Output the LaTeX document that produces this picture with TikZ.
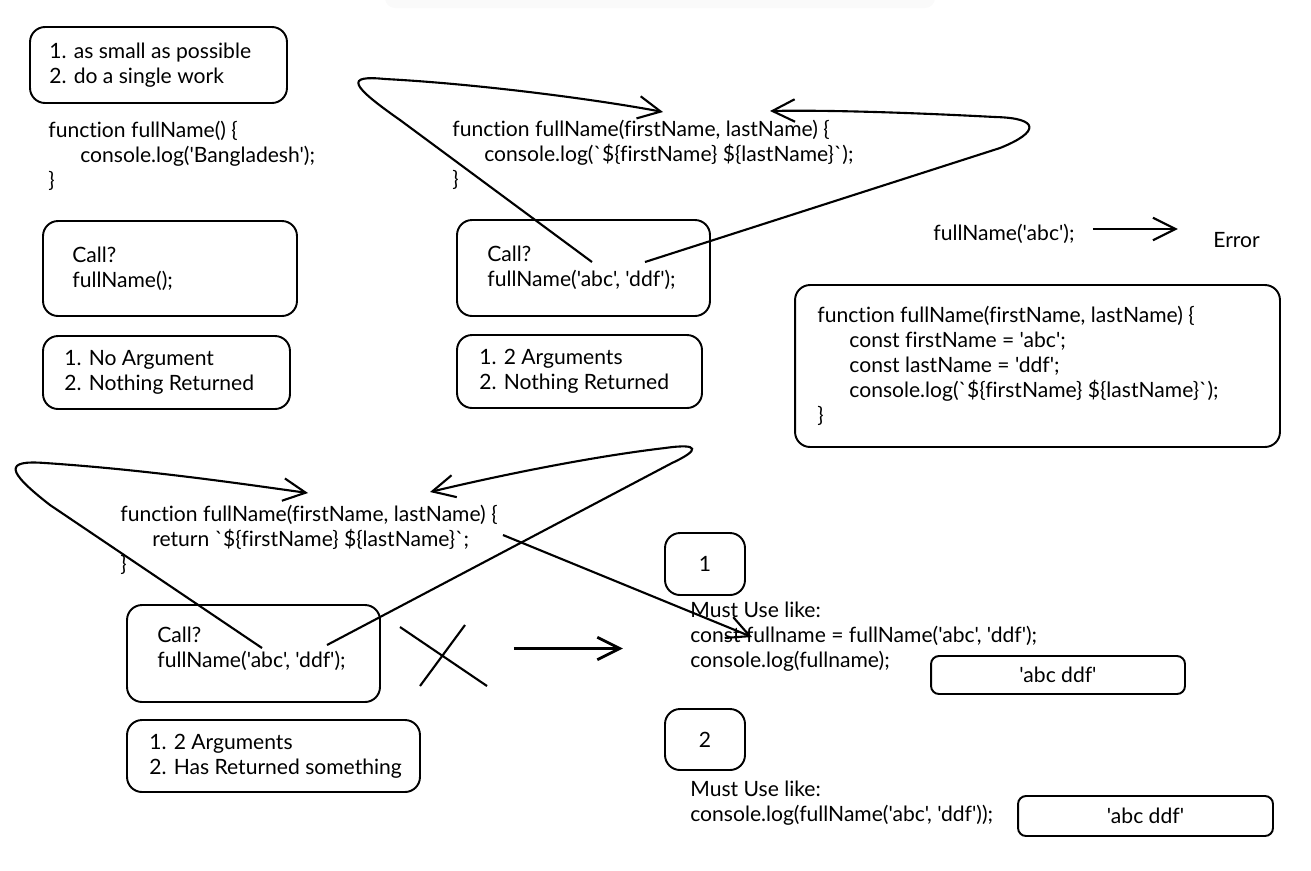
\documentclass[tikz,border=0pt]{standalone}
\usepackage{fontspec}
\setmainfont{Lato}[Ligatures={TeXOff,NoCommon}]
\usetikzlibrary{positioning,arrows.meta}

\newcommand{\ind}{\hspace*{0.64cm}}

\begin{document}
\begin{tikzpicture}[x=0.02cm, y=-0.02cm,
  every node/.style={font=\fontsize{12}{14.2}\selectfont},
  box/.style={draw, rounded corners=0.3cm, line width=1.1pt, inner sep=0pt},
  pill/.style={box, rounded corners=0.16cm},
  txt/.style={align=left, inner sep=0pt},
  link/.style={line width=1.2pt, -{Straight Barb[length=0.45cm,width=0.45cm]}}]
\useasboundingbox (0,0) rectangle (1311,870);
\fill[black!2, rounded corners=0.2cm] (385,-10) rectangle (935,8);

% first example, no argument
\node[box, minimum width=5.14cm, minimum height=1.52cm] (boxA) at (158.5,65) {};
\node[txt, right=0.4cm of boxA.west] (tipsA) {1. as small as possible\\2. do a single work};
\node[txt, anchor=west] (codeA) at (48,156) {function fullName() \{\\\ind console.log('Bangladesh');\\\}};
\node[box, minimum width=5.08cm, minimum height=1.9cm] (boxB) at (170,268.5) {};
\node[txt, right=0.6cm of boxB.west] (callB) {Call?\\fullName();};
\node[box, minimum width=4.94cm, minimum height=1.46cm] (boxC) at (166.5,372.5) {};
\node[txt, right=0.44cm of boxC.west] (noteC) {1. No Argument\\2. Nothing Returned};

% second example, two arguments
\node[txt, anchor=west] (codeB) at (452,155) {function fullName(firstName, lastName) \{\\\ind console.log(`\$\{firstName\} \$\{lastName\}`);\\\}};
\node[box, minimum width=5.06cm, minimum height=1.92cm] (boxD) at (583.5,268) {};
\node[txt, right=0.62cm of boxD.west] (callD) {Call?\\fullName('abc', 'ddf');};
\node[box, minimum width=4.9cm, minimum height=1.46cm] (boxE) at (579.5,371.5) {};
\node[txt, right=0.46cm of boxE.west] (noteE) {1. 2 Arguments\\2. Nothing Returned};

\coordinate (argAbc) at (592,262);
\coordinate (argDdf) at (645,262);
\coordinate (parFirst) at (663,112);
\coordinate (parLast) at (770,111);
\draw[link] (argAbc) -- (400,120) .. controls (350,85) and (345,75) .. (385,79) .. controls (480,84) and (600,100) .. (parFirst);
\draw[link] (argDdf) -- (1000,148) .. controls (1040,132) and (1040,118) .. (995,117) .. controls (900,112) and (820,110) .. (parLast);

% missing argument
\node[txt, anchor=west] (errCall) at (933,234) {fullName('abc');};
\node[txt, anchor=west] (errMsg) at (1213,240) {Error};
\draw[link] ([xshift=0.36cm,yshift=0.1cm]errCall.east) -- +(85,0);
\node[box, minimum width=9.7cm, minimum height=3.24cm] (boxF) at (1037.5,366) {};
\node[txt, right=0.46cm of boxF.west] (codeF) {function fullName(firstName, lastName) \{\\\ind const firstName = 'abc';\\\ind const lastName = 'ddf';\\\ind console.log(`\$\{firstName\} \$\{lastName\}`);\\\}};

% third example, return value
\node[txt, anchor=west] (codeG) at (120,540) {function fullName(firstName, lastName) \{\\\ind return `\$\{firstName\} \$\{lastName\}`;\\\}};
\node[box, minimum width=5.06cm, minimum height=1.94cm] (boxG) at (253.5,653.5) {};
\node[txt, right=0.62cm of boxG.west, yshift=0.1cm] (callG) {Call?\\fullName('abc', 'ddf');};
\node[box, minimum width=5.86cm, minimum height=1.44cm] (boxH) at (273.5,756) {};
\node[txt, right=0.46cm of boxH.west] (noteH) {1. 2 Arguments\\2. Has Returned something};

\coordinate (retAbc) at (262,648);
\coordinate (retDdf) at (327,645);
\coordinate (retFirst) at (308,493);
\coordinate (retLast) at (430,492);
\draw[link] (retAbc) -- (50,505) .. controls (5,470) and (5,460) .. (45,463) .. controls (150,470) and (250,485) .. (retFirst);
\draw[link] (retDdf) -- (672,463) .. controls (700,450) and (700,443) .. (665,448) .. controls (580,458) and (480,480) .. (retLast);

\draw[line width=1.2pt] (400,627) -- (487,686) (465,625) -- (420,686);
\draw[link, line width=1.6pt] ([xshift=2.66cm,yshift=0.1cm]boxG.east) -- +(109,0);

% ways to use it
\node[box, minimum width=1.6cm, minimum height=1.24cm] (useOne) at (705,564) {1};
\node[txt, anchor=west] (codeOne) at (690,637) {Must Use like:\\const fullname = fullName('abc', 'ddf');\\console.log(fullname);};
\node[pill, minimum width=5.08cm, minimum height=0.76cm] (outOne) at (1058,675) {'abc ddf'};
\coordinate (retVal) at (503,535);
\coordinate (useConst) at (752,637);
\draw[link] (retVal) -- (useConst);

\node[box, minimum width=1.6cm, minimum height=1.22cm] (useTwo) at (705,739.5) {2};
\node[txt, anchor=west] (codeTwo) at (690,803) {Must Use like:\\console.log(fullName('abc', 'ddf'));};
\node[pill, minimum width=5.1cm, minimum height=0.8cm] (outTwo) at (1145.5,816) {'abc ddf'};
\end{tikzpicture}
\end{document}
